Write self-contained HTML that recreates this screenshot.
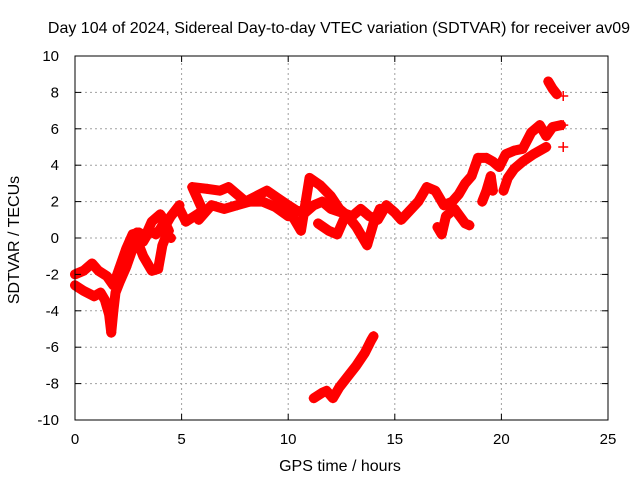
<!DOCTYPE html>
<html><head><meta charset="utf-8"><style>
body{margin:0;background:#fff;}
svg text{font-family:"Liberation Sans",sans-serif;font-size:15px;fill:#000;}
svg text.big{font-size:16px;}
</style></head><body>
<svg width="640" height="480" xmlns="http://www.w3.org/2000/svg">
<rect width="640" height="480" fill="#fff"/>
<g id="grid"></g>
<g id="marks"></g>
<rect x="75" y="56" width="533" height="364" fill="none" stroke="#000" stroke-width="1"/>
<g id="axes"></g>
<text class="big" x="339" y="33" text-anchor="middle">Day 104 of 2024, Sidereal Day-to-day VTEC variation (SDTVAR) for receiver av09</text>
<text class="big" x="340" y="471" text-anchor="middle">GPS time / hours</text>
<text class="big" transform="translate(19,240) rotate(-90)" text-anchor="middle">SDTVAR / TECUs</text>
</svg>
<script>
const xTicks=[0,5,10,15,20,25];
const yTicks=[-10,-8,-6,-4,-2,0,2,4,6,8,10];
const trackEarlyUpper=[[0,-2],[0.4,-1.8],[0.8,-1.4],[1.1,-1.8],[1.5,-2.1],[1.8,-2.6],[2.1,-1.6],[2.4,-0.6],[2.7,0.2],[3.0,0.3],[3.3,0.1],[3.6,0.9],[4.0,1.3],[4.3,0.8],[4.5,1.2],[4.9,1.8]];
const trackEarlyLower=[[0,-2.6],[0.4,-2.9],[0.9,-3.2],[1.2,-3.0],[1.4,-3.4],[1.6,-4.2],[1.7,-5.2],[1.8,-4.0],[1.9,-3.0],[2.1,-2.4],[2.4,-1.6],[2.7,-0.6],[3.0,-0.4],[3.2,-1.0],[3.4,-1.4],[3.6,-1.8],[3.9,-1.7],[4.1,-0.4],[4.3,0.2],[4.5,0.0]];
const trackLoop=[[2.6,-0.8],[2.9,0.3],[3.2,-0.2],[3.5,0.4],[3.8,0.2],[4.0,0.5],[4.2,0.9],[4.4,0.4]];
const trackMain=[[4.9,1.6],[5.2,0.9],[5.6,1.2],[6.0,1.5],[5.5,2.8],[6.2,2.7],[6.8,2.6],[7.2,2.8],[7.6,2.4],[8.0,2.0],[8.5,2.3],[9.0,2.6],[9.5,2.2],[10.0,1.8],[10.4,1.5],[10.8,1.4],[11.2,1.8],[11.6,2.0],[12.0,1.6],[12.5,1.4],[13.0,1.2],[13.4,1.6],[13.8,1.2],[14.2,1.0],[14.6,1.8],[15.0,1.4],[15.3,1.0],[15.7,1.5],[16.1,2.0],[16.5,2.8],[16.9,2.6],[17.3,1.8],[17.7,2.0],[18.0,2.4],[18.3,3.0],[18.6,3.4],[18.9,4.4],[19.3,4.4],[19.6,4.2],[19.9,3.9],[20.2,4.6],[20.6,4.8],[21.0,4.9],[21.4,5.8],[21.8,6.2],[22.1,5.6],[22.4,6.1],[22.8,6.2]];
const trackMid=[[5.8,1.0],[6.4,1.8],[7.0,1.6],[7.6,1.8],[8.2,2.0],[8.8,2.0],[9.4,1.7],[10.0,1.2]];
const trackSecond=[[9.8,1.8],[10.3,1.0],[10.6,0.4],[11.0,3.3],[11.5,2.9],[12.0,2.3],[12.4,1.6],[12.8,1.2],[13.2,0.6],[13.5,0.0],[13.7,-0.4],[14.0,0.8],[14.3,1.6]];
const trackDips=[[11.4,0.8],[11.9,0.4],[12.3,0.2],[12.6,1.0]];
const trackLate=[[17.0,0.6],[17.2,0.2],[17.4,1.2],[17.8,1.6],[18.3,0.8],[18.5,0.7]];
const trackLate2=[[19.1,2.0],[19.3,2.6],[19.5,3.4],[19.6,2.6]];
const trackLate3=[[20.1,2.6],[20.3,3.3],[20.6,3.8],[21.0,4.2],[21.5,4.6],[22.1,5.0]];
const trackTop=[[22.2,8.6],[22.4,8.2],[22.6,7.9]];
const trackLow=[[11.2,-8.8],[11.6,-8.5],[11.8,-8.4],[12.1,-8.8],[12.4,-8.2],[12.8,-7.6],[13.2,-7.0],[13.6,-6.3],[13.9,-5.6],[14.0,-5.4]];
const isolated=[[22.9,7.8],[22.9,6.2],[22.9,5.0]];
const tracks=[trackEarlyUpper,trackEarlyLower,trackLoop,trackMain,trackMid,trackSecond,trackDips,trackLate,trackLate2,trackLate3,trackTop,trackLow];

const X0=75,X1=608,Y0=420,Y1=56;
function sx(h){return X0+(h-0)/(25-0)*(X1-X0);}
function sy(v){return Y0-(v+10)/20*(Y0-Y1);}
const NS="http://www.w3.org/2000/svg";
function mk(t,a,p){const e=document.createElementNS(NS,t);for(const k in a)e.setAttribute(k,a[k]);p.appendChild(e);return e;}
const grid=document.getElementById('grid'),axes=document.getElementById('axes'),marks=document.getElementById('marks');
xTicks.forEach(t=>{const x=sx(t);
 if(t>0&&t<25){const l=mk('line',{x1:x,y1:Y0,x2:x,y2:Y1,stroke:'#a0a0a0','stroke-dasharray':'2,3'},grid);
 
 }
 mk('line',{x1:x,y1:Y0,x2:x,y2:Y0-6,stroke:'#000'},axes);
 mk('line',{x1:x,y1:Y1,x2:x,y2:Y1+6,stroke:'#000'},axes);
 const tx=mk('text',{x:x,y:Y0+24,'text-anchor':'middle'},axes);tx.textContent=t;
 
 });
yTicks.forEach(t=>{const y=sy(t);
 if(t>-10&&t<10){const l=mk('line',{x1:X0,y1:y,x2:X1,y2:y,stroke:'#a0a0a0','stroke-dasharray':'2,3'},grid);
 
 }
 mk('line',{x1:X0,y1:y,x2:X0+6,y2:y,stroke:'#000'},axes);
 mk('line',{x1:X1,y1:y,x2:X1-6,y2:y,stroke:'#000'},axes);
 const tx=mk('text',{x:X0-16,y:y+5,'text-anchor':'end'},axes);tx.textContent=t;
 
 });
function plus(h,v,col){const x=sx(h),y=sy(v);
 const p=mk('path',{d:`M${x-5},${y}H${x+5}M${x},${y-5}V${y+5}`,stroke:col,'stroke-width':1.5},marks);
 
 }
tracks.forEach(tr=>{
 const pl=mk('polyline',{points:tr.map(p=>sx(p[0])+','+sy(p[1])).join(' '),fill:'none',stroke:'#ff0000','stroke-width':10,'stroke-linejoin':'round','stroke-linecap':'round'},marks);
 
 
 tr.forEach(p=>plus(p[0],p[1],'#ff0000'));});
isolated.forEach(p=>plus(p[0],p[1],'#ff0000'));
</script>
</body></html>
